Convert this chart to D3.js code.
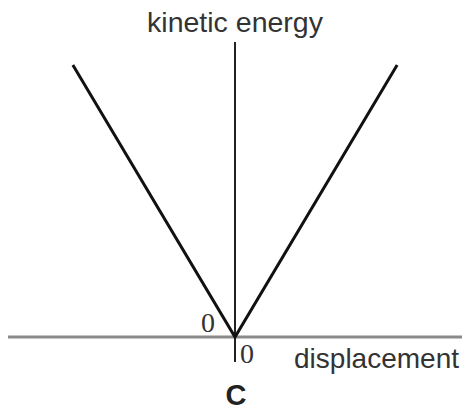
<!DOCTYPE html>
<html><head><meta charset="utf-8">
<script src="https://cdn.jsdelivr.net/npm/d3@7"></script>
<style>html,body{margin:0;padding:0;background:#fff;}svg{display:block;}</style>
</head><body>
<script>
// Data: kinetic energy vs displacement (V shape, minimum at C)
const displacement = [-1, 0, 1];
const kineticEnergy = [1, 0, 1];
const xAxisLabel = "displacement";
const yAxisLabel = "kinetic energy";
const originLabels = ["0", "0"];
const panelLabel = "C";

const W = 465, H = 412;
const svg = d3.select("body").append("svg").attr("width", W).attr("height", H);

const x = d3.scaleLinear().domain([-1.4, 1.4]).range([8, 462]);
const y = d3.scaleLinear().domain([0, 1]).range([337, 65]);

// horizontal (displacement) axis
svg.append("line")
  .attr("x1", x(-1.4)).attr("x2", x(1.4))
  .attr("y1", y(0)).attr("y2", y(0))
  .attr("stroke", "#8a8a8a").attr("stroke-width", 3);

// vertical (kinetic energy) axis
svg.append("line")
  .attr("x1", x(0)).attr("x2", x(0))
  .attr("y1", y(1.085)).attr("y2", y(-0.092))
  .attr("stroke", "#222").attr("stroke-width", 2);

// V-shaped line
const pts = displacement.map((d, i) => [d, kineticEnergy[i]]);
svg.append("path")
  .datum(pts)
  .attr("fill", "none")
  .attr("stroke", "#111")
  .attr("stroke-width", 3)
  .attr("stroke-linejoin", "miter")
  .attr("d", d3.line().x(d => x(d[0])).y(d => y(d[1])));

// labels
svg.append("text").text(yAxisLabel)
  .attr("x", x(0)).attr("y", 32)
  .attr("text-anchor", "middle")
  .attr("font-family", "Liberation Sans, Arial, sans-serif")
  .attr("font-size", 28.5).attr("fill", "#333");

svg.append("text").text(xAxisLabel)
  .attr("x", 459).attr("y", 368)
  .attr("text-anchor", "end")
  .attr("font-family", "Liberation Sans, Arial, sans-serif")
  .attr("font-size", 28).attr("fill", "#333");

svg.append("text").text(originLabels[0])
  .attr("x", 208).attr("y", 332)
  .attr("text-anchor", "middle")
  .attr("font-family", "Liberation Serif, Times New Roman, serif")
  .attr("font-size", 28).attr("fill", "#333");

svg.append("text").text(originLabels[1])
  .attr("x", 247).attr("y", 363)
  .attr("text-anchor", "middle")
  .attr("font-family", "Liberation Serif, Times New Roman, serif")
  .attr("font-size", 28).attr("fill", "#333");

svg.append("text").text(panelLabel)
  .attr("x", 236).attr("y", 405)
  .attr("text-anchor", "middle")
  .attr("font-family", "Liberation Sans, Arial, sans-serif")
  .attr("font-size", 29).attr("font-weight", "bold").attr("fill", "#222");
</script>
</body></html>
